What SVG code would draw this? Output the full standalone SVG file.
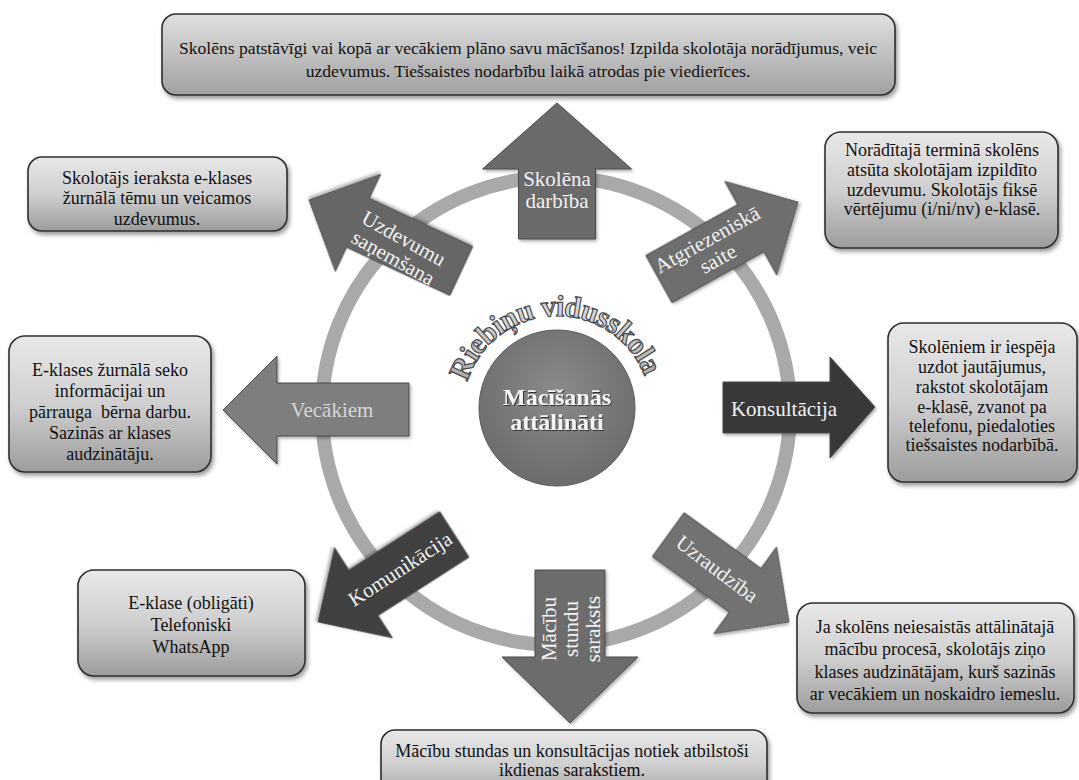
<svg xmlns="http://www.w3.org/2000/svg" width="1079" height="780" viewBox="0 0 1079 780">
<defs>
<linearGradient id="boxg" x1="0" y1="0" x2="0" y2="1">
<stop offset="0" stop-color="#e8e8e8"/>
<stop offset="0.5" stop-color="#cfcfcf"/>
<stop offset="1" stop-color="#9c9c9c"/>
</linearGradient>
<radialGradient id="circg" cx="0.5" cy="0.4" r="0.6">
<stop offset="0" stop-color="#8a8a8a"/>
<stop offset="1" stop-color="#6c6c6c"/>
</radialGradient>
<linearGradient id="titleg" x1="0" y1="0" x2="0" y2="1">
<stop offset="0" stop-color="#e0e0e0"/>
<stop offset="1" stop-color="#a0a0a0"/>
</linearGradient>
<linearGradient id="arcg" x1="0" y1="0" x2="0" y2="1">
<stop offset="0" stop-color="#e4e4e4"/>
<stop offset="1" stop-color="#a8a8a8"/>
</linearGradient>
<filter id="sh" x="-10%" y="-10%" width="120%" height="130%">
<feDropShadow dx="2" dy="3" stdDeviation="2" flood-color="#000" flood-opacity="0.4"/>
</filter>
<filter id="ash" x="-10%" y="-10%" width="130%" height="130%">
<feDropShadow dx="1.5" dy="2" stdDeviation="1.5" flood-color="#000" flood-opacity="0.3"/>
</filter>
<filter id="tsh" x="-10%" y="-20%" width="120%" height="150%">
<feDropShadow dx="1" dy="1" stdDeviation="0.6" flood-color="#000" flood-opacity="0.6"/>
</filter>
<path id="arc" d="M 463 410 A 94 94 0 0 1 651 410"/>
<style>
.box{fill:url(#boxg);stroke:#2e2e2e;stroke-width:1.6;filter:url(#sh)}
.bt{font-family:"Liberation Serif","DejaVu Serif",serif;font-size:18px;fill:#111;text-anchor:middle}
.tt{font-family:"Liberation Serif","DejaVu Serif",serif;font-size:17.6px;fill:#111;text-anchor:middle}
.arr{stroke:#4a4a4a;stroke-width:1;filter:url(#ash)}
.at{font-family:"Liberation Serif","DejaVu Serif",serif;font-size:21px;fill:#f2f2f2;text-anchor:middle}
.ct{font-family:"Liberation Serif","DejaVu Serif",serif;font-size:24px;font-weight:bold;fill:#f4f4f4;text-anchor:middle;filter:url(#tsh)}
.arc{font-family:"Liberation Serif","DejaVu Serif",serif;font-size:30px;font-weight:bold;fill:url(#arcg);stroke:#4b4b4b;stroke-width:1.2;text-anchor:middle}
</style>
</defs>
<rect width="1079" height="780" fill="#ffffff"/>

<g id="connectors">
<circle cx="556" cy="411" r="234" fill="none" stroke="#a9a9a9" stroke-width="14"/>
</g>

<g id="center">
<circle cx="557" cy="408" r="78" fill="url(#circg)" stroke="#5a5a5a" stroke-width="1"/>
<text class="ct" x="557" y="405">Mācīšanās</text>
<text class="ct" x="557" y="430">attālināti</text>
</g>

<g id="school-name">
<text class="arc"><textPath href="#arc" startOffset="49%" textLength="232" lengthAdjust="spacing">Riebiņu vidusskola</textPath></text>
</g>

<g id="arrow-skolena-darbiba">
<polygon class="arr" fill="#6b6b6b" points="557,103 631.5,169 595.5,169 595.5,239 518.5,239 518.5,169 482.5,169"/>
<text class="at" x="557" y="186" font-size="21">Skolēna</text>
<text class="at" x="557" y="208" font-size="21">darbība</text>
</g>

<g id="arrow-atgriezeniska-saite">
<polygon class="arr" fill="#6e6e6e" transform="translate(798,202) rotate(-29)" points="0,0 -54,-53.5 -54,-27 -159,-27 -159,27 -54,27 -54,53.5"/>
<g transform="translate(713,250) rotate(-29)">
<text class="at" x="0" y="-5">Atgriezeniskā</text>
<text class="at" x="0" y="17">saite</text>
</g>
</g>

<g id="arrow-konsultacija">
<polygon class="arr" fill="#383838" points="875,407 830,357 830,382 723,382 723,433 830,433 830,458"/>
<text class="at" x="784" y="416" font-size="22">Konsultācija</text>
</g>

<g id="arrow-uzraudziba">
<polygon class="arr" fill="#727272" transform="translate(789,622) rotate(35.9)" points="0,0 -54,-53.5 -54,-27 -149,-27 -149,27 -54,27 -54,53.5"/>
<text class="at" transform="translate(717,569) rotate(37)" x="0" y="7">Uzraudzība</text>
</g>

<g id="arrow-macibu-stundu-saraksts">
<polygon class="arr" fill="#6c6c6c" points="570,723 638,657 605,657 605,570 535,570 535,657 502,657"/>
<g transform="translate(572,629) rotate(-90)">
<text class="at" x="0" y="-16">Mācību</text>
<text class="at" x="0" y="6">stundu</text>
<text class="at" x="0" y="28">saraksts</text>
</g>
</g>

<g id="arrow-komunikacija">
<polygon class="arr" fill="#404040" transform="translate(318,622) rotate(147.3)" points="0,0 -54,-53.5 -54,-27 -162,-27 -162,27 -54,27 -54,53.5"/>
<text class="at" transform="translate(400,569) rotate(-33)" x="0" y="7">Komunikācija</text>
</g>

<g id="arrow-vecakiem">
<polygon class="arr" fill="#7e7e7e" points="223,410 277,356 277,383 409,383 409,436 277,436 277,464"/>
<text class="at" x="332" y="417" font-size="22" style="fill:#d6d6d6">Vecākiem</text>
</g>

<g id="arrow-uzdevumu-sanemsana">
<polygon class="arr" fill="#666666" transform="translate(309,200) rotate(205)" points="0,0 -54,-53.5 -54,-27 -168,-27 -168,27 -54,27 -54,53.5"/>
<g transform="translate(398,249) rotate(29)">
<text class="at" x="0" y="-5">Uzdevumu</text>
<text class="at" x="0" y="17">saņemšana</text>
</g>
</g>

<g id="box-top">
<rect class="box" x="162" y="14" width="733" height="81" rx="14" style="fill:url(#titleg)"/>
<text class="tt" x="528" y="54">Skolēns patstāvīgi vai kopā ar vecākiem plāno savu mācīšanos! Izpilda skolotāja norādījumus, veic</text>
<text class="tt" x="528" y="77">uzdevumus. Tiešsaistes nodarbību laikā atrodas pie viedierīces.</text>
</g>

<g id="box-uzdevumi">
<rect class="box" x="28" y="157" width="259" height="74" rx="14"/>
<text class="bt" x="157" y="184">Skolotājs ieraksta e-klases</text>
<text class="bt" x="157" y="204">žurnālā tēmu un veicamos</text>
<text class="bt" x="157" y="225">uzdevumus.</text>
</g>

<g id="box-vecaki">
<rect class="box" x="9" y="336" width="202" height="136" rx="16"/>
<text class="bt" x="110" y="376">E-klases žurnālā seko</text>
<text class="bt" x="110" y="397">informācijai un</text>
<text class="bt" x="110" y="418">pārrauga&#160; bērna darbu.</text>
<text class="bt" x="110" y="439">Sazinās ar klases</text>
<text class="bt" x="110" y="460">audzinātāju.</text>
</g>

<g id="box-komunikacija">
<rect class="box" x="78" y="570" width="227" height="106" rx="16"/>
<text class="bt" x="191" y="609">E-klase (obligāti)</text>
<text class="bt" x="191" y="631">Telefoniski</text>
<text class="bt" x="191" y="653">WhatsApp</text>
</g>

<g id="box-atgriezeniska">
<rect class="box" x="825" y="132" width="233" height="116" rx="16"/>
<text class="bt" x="942" y="156">Norādītajā terminā skolēns</text>
<text class="bt" x="942" y="176">atsūta skolotājam izpildīto</text>
<text class="bt" x="942" y="196">uzdevumu. Skolotājs fiksē</text>
<text class="bt" x="942" y="215">vērtējumu (i/ni/nv) e-klasē.</text>
</g>

<g id="box-konsultacija">
<rect class="box" x="888" y="323" width="189" height="159" rx="16"/>
<text class="bt" x="982" y="353">Skolēniem ir iespēja</text>
<text class="bt" x="982" y="373">uzdot jautājumus,</text>
<text class="bt" x="982" y="393">rakstot skolotājam</text>
<text class="bt" x="982" y="413">e-klasē, zvanot pa</text>
<text class="bt" x="982" y="432">telefonu, piedaloties</text>
<text class="bt" x="982" y="451">tiešsaistes nodarbībā.</text>
</g>

<g id="box-uzraudziba">
<rect class="box" x="797" y="603" width="277" height="110" rx="16"/>
<text class="bt" x="935" y="633">Ja skolēns neiesaistās attālinātajā</text>
<text class="bt" x="935" y="655">mācību procesā, skolotājs ziņo</text>
<text class="bt" x="935" y="678">klases audzinātājam, kurš sazinās</text>
<text class="bt" x="935" y="700">ar vecākiem un noskaidro iemeslu.</text>
</g>

<g id="box-saraksts">
<rect class="box" x="381" y="730" width="386" height="70" rx="14"/>
<text class="bt" x="572" y="757" font-size="17">Mācību stundas un konsultācijas notiek atbilstoši</text>
<text class="bt" x="572" y="776" font-size="17">ikdienas sarakstiem.</text>
</g>
</svg>
